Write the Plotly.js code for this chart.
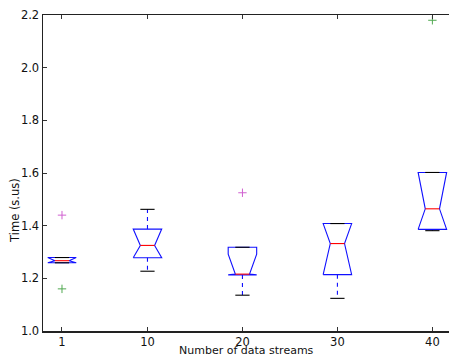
<!DOCTYPE html>
<html>
<head>
<meta charset="utf-8">
<script src="https://cdn.plot.ly/plotly-3.0.1.min.js"></script>
<style>html,body{margin:0;padding:0;overflow:hidden;background:#fff;}</style>
</head>
<body>
<div id="chart" style="width:449px;height:358px;"></div>
<script>
// ---- data ----
const positions   = [1, 10, 20, 30, 40];
const tickLabels  = ["1", "10", "20", "30", "40"];
const q1          = [1.259, 1.278, 1.213, 1.214, 1.386];
const medians     = [1.267, 1.325, 1.216, 1.332, 1.464];
const q3          = [1.279, 1.387, 1.318, 1.408, 1.602];
const notchLo     = [1.259, 1.278, 1.213, 1.214, 1.386];
const notchHi     = [1.279, 1.387, 1.292, 1.408, 1.602];
const whiskerLo   = [1.259, 1.227, 1.136, 1.124, 1.381];
const whiskerHi   = [1.279, 1.462, 1.318, 1.408, 1.602];
const fliersHigh  = [[1.44], [], [1.525], [], [2.18]];
const fliersLow   = [[1.16], [], [], [], []];
const fliersHighColor = ["#d060d0", "#d060d0", "#d060d0", "#d060d0", "#50a850"];
const fliersLowColor  = ["#50a850", "#50a850", "#50a850", "#50a850", "#50a850"];
const xTitle = "Number of data streams";
const yTitle = "Time (s.us)";

const boxWidth = 3;   // in x data units
const FONT = "DejaVu Sans, Liberation Sans, sans-serif";

const traces = [];
positions.forEach((p, i) => {
  const l = p - boxWidth / 2, r = p + boxWidth / 2;
  const cl = p - boxWidth / 4, cr = p + boxWidth / 4;
  traces.push({
    x: [l, r, r, cr, r, r, l, l, cl, l, l],
    y: [q1[i], q1[i], notchLo[i], medians[i], notchHi[i], q3[i], q3[i], notchHi[i], medians[i], notchLo[i], q1[i]],
    mode: "lines", line: {color: "#1010ff", width: 1.1}, hoverinfo: "skip", showlegend: false
  });
  traces.push({
    x: [cl, cr], y: [medians[i], medians[i]],
    mode: "lines", line: {color: "#ff0000", width: 1.1}, hoverinfo: "skip", showlegend: false
  });
  traces.push({
    x: [p, p, null, p, p], y: [q1[i], whiskerLo[i], null, q3[i], whiskerHi[i]],
    mode: "lines", line: {color: "#1010ff", width: 1.1, dash: "4px,4px"}, hoverinfo: "skip", showlegend: false
  });
  traces.push({
    x: [cl, cr, null, cl, cr], y: [whiskerLo[i], whiskerLo[i], null, whiskerHi[i], whiskerHi[i]],
    mode: "lines", line: {color: "#000000", width: 1.1}, hoverinfo: "skip", showlegend: false
  });
  if (fliersHigh[i].length) traces.push({
    x: fliersHigh[i].map(() => p), y: fliersHigh[i], mode: "markers",
    marker: {symbol: "cross-thin", size: 6, line: {color: fliersHighColor[i], width: 1}},
    hoverinfo: "skip", showlegend: false
  });
  if (fliersLow[i].length) traces.push({
    x: fliersLow[i].map(() => p), y: fliersLow[i], mode: "markers",
    marker: {symbol: "cross-thin", size: 6, line: {color: fliersLowColor[i], width: 1}},
    hoverinfo: "skip", showlegend: false
  });
});

traces.push({x: [positions[0]], y: [1.0], xaxis: "x2", mode: "markers", marker: {opacity: 0}, hoverinfo: "skip", showlegend: false});

const xRange = [-1, 41.75];
const layout = {
  width: 449, height: 358,
  margin: {l: 43, r: 0, t: 15, b: 27},
  paper_bgcolor: "#ffffff", plot_bgcolor: "#ffffff",
  font: {family: FONT, size: 12, color: "#111"},
  showlegend: false,
  xaxis: {
    range: xRange, tickvals: positions, ticktext: tickLabels,
    ticks: "inside", ticklen: 4, tickcolor: "#333", tickwidth: 1,
    showline: true, linecolor: "#222", linewidth: 1.5,
    showgrid: false, zeroline: false, automargin: false,
    tickfont: {family: FONT, size: 11.5, color: "#111"}
  },
  xaxis2: {
    overlaying: "x", side: "top", range: xRange, tickvals: positions,
    showticklabels: false, ticks: "inside", ticklen: 4, tickcolor: "#333",
    showline: true, linecolor: "#222", linewidth: 1.5, showgrid: false, zeroline: false
  },
  yaxis: {
    range: [1.0, 2.2], dtick: 0.2, tick0: 1.0, tickformat: ".1f",
    ticks: "inside", ticklen: 4, tickcolor: "#333", tickwidth: 1,
    showline: true, linecolor: "#222", linewidth: 1.5,
    showgrid: false, zeroline: false, automargin: false,
    tickfont: {family: FONT, size: 11.5, color: "#111"}
  },
  annotations: [
    {text: xTitle, xref: "paper", yref: "paper", x: 0.5, y: 0, xanchor: "center", yanchor: "bottom",
     yshift: -27, borderpad: 0, showarrow: false, font: {family: FONT, size: 11, color: "#111"}},
    {text: yTitle, xref: "paper", yref: "paper", x: 0, y: 0.38, xanchor: "center", yanchor: "middle",
     xshift: -28, textangle: -90, showarrow: false, font: {family: FONT, size: 11.5, color: "#111"}}
  ]
};

Plotly.newPlot("chart", traces, layout, {displayModeBar: false, staticPlot: true});
</script>
</body>
</html>
